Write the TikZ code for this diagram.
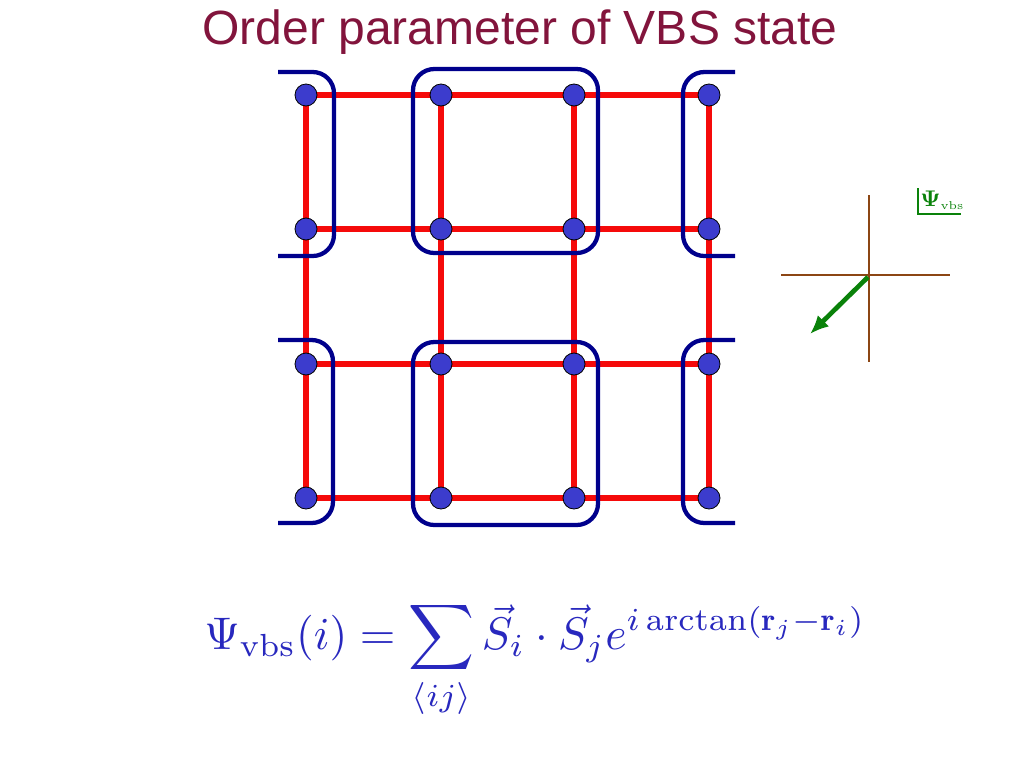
\documentclass[tikz,border=0pt]{standalone}
\usepackage{fontspec}
\usepackage{amsmath}
\usepackage{graphicx}
\usetikzlibrary{arrows.meta}
\newfontfamily\titlefont{Liberation Sans}
\begin{document}
\begin{tikzpicture}[x=0.75pt,y=-0.75pt,
  site/.style={circle,draw=black,line width=0.6pt,fill=siteblue,minimum size=16.5pt,inner sep=0pt},
  bond/.style={draw=bondred,line width=3.8pt},
  dimer/.style={draw=dimerblue,line width=3.2pt},
  axis/.style={draw=axisbrown,line width=1pt}]
\definecolor{siteblue}{RGB}{60,60,205}
\definecolor{bondred}{RGB}{245,10,10}
\definecolor{dimerblue}{RGB}{0,0,140}
\definecolor{titlecol}{RGB}{130,20,60}
\definecolor{axisbrown}{RGB}{140,70,20}
\definecolor{arrowgreen}{RGB}{10,130,10}
\definecolor{formblue}{RGB}{40,40,190}
\useasboundingbox (0,0) rectangle (1024,768);
\node[font=\titlefont\fontsize{36}{40}\selectfont,text=titlecol] (title) at (520,32) {Order parameter of VBS state};
% sites
\foreach \c/\x in {1/306,2/441,3/574,4/709}{
  \foreach \r/\y in {1/95,2/229,3/364,4/498}{
    \coordinate (p\c\r) at (\x,\y);
  }}
% bonds
\foreach \r in {1,2,3,4}{\draw[bond] (p1\r) -- (p4\r);}
\foreach \c in {1,2,3,4}{\draw[bond] (p\c1) -- (p\c4);}
% dimers
\draw[dimer,rounded corners=16pt] (278,72) -- (334,72) -- (334,256) -- (278,256);
\draw[dimer,rounded corners=16pt] (735,72) -- (683,72) -- (683,256) -- (735,256);
\draw[dimer,rounded corners=16pt] (278,340) -- (333,340) -- (333,523) -- (278,523);
\draw[dimer,rounded corners=16pt] (735,340) -- (683,340) -- (683,523) -- (735,523);
\draw[dimer,rounded corners=16pt] (413,69) rectangle (598,253);
\draw[dimer,rounded corners=16pt] (413,342) rectangle (598,525);
\foreach \c in {1,2,3,4}{\foreach \r in {1,2,3,4}{\node[site] (s\c\r) at (p\c\r) {};}}
% axes
\coordinate (vt) at (869,195); \coordinate (vb) at (869,362);
\coordinate (hl) at (781,275); \coordinate (hr) at (950,275);
\coordinate (o) at (868,277); \coordinate (tip) at (810,334);
\draw[axis] (vt) -- (vb);
\draw[axis] (hl) -- (hr);
\draw[draw=arrowgreen,line width=3.5pt,-{Latex[length=14pt,width=12pt]}] (o) -- (tip);
\node[text=arrowgreen,anchor=south west,inner sep=1.5pt] (lab) at (918,212) {\scalebox{1.7}{$\boldsymbol{\Psi}_{\text{\tiny vbs}}$}};
\draw[arrowgreen,line width=0.8pt] (918,188) -- (918,214) -- (961,214);
% formula
\node[text=formblue] (eq) at (535,660) {\resizebox{496pt}{!}{$\displaystyle \Psi_{\mathrm{vbs}}(i) = \sum_{\langle ij\rangle} \vec S_i\cdot\vec S_j e^{i\arctan(\mathbf r_j-\mathbf r_i)}$}};
\end{tikzpicture}
\end{document}
